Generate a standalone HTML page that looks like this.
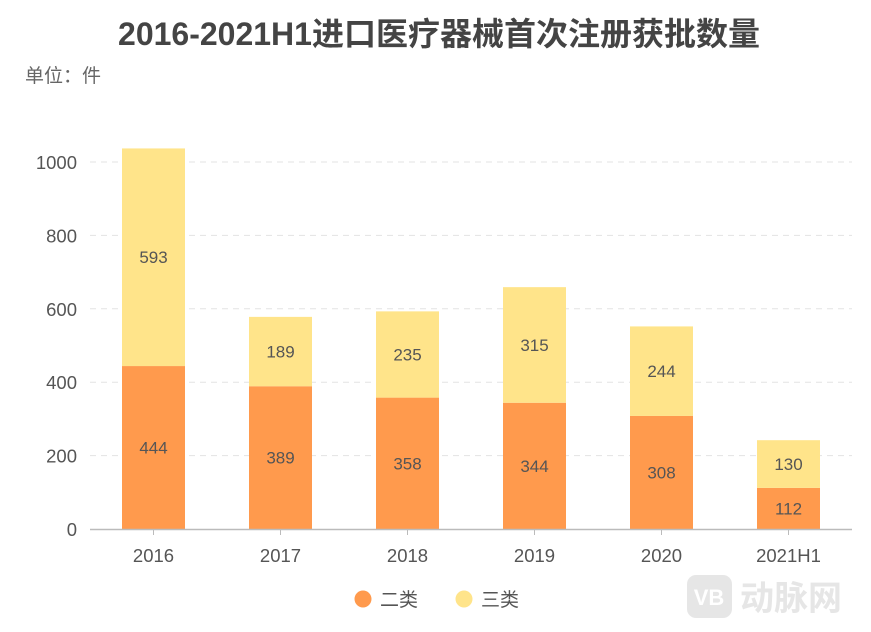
<!DOCTYPE html>
<html><head><meta charset="utf-8">
<style>
html,body{margin:0;padding:0;background:#fff;}
body{width:871px;height:627px;overflow:hidden;font-family:"Liberation Sans","Noto Sans CJK SC",sans-serif;}
</style></head>
<body>
<svg id="chart" width="871" height="627" font-family="'Liberation Sans','Noto Sans CJK SC',sans-serif">
  <text x="439" y="45" text-anchor="middle" font-size="32" font-weight="bold" fill="#444">2016-2021H1进口医疗器械首次注册获批数量</text>
  <text x="25" y="82" font-size="19" fill="#666">单位：件</text>
  <g id="grid"></g>
  <g id="bars"></g>
  <g id="axes"></g>
  <g>
    <circle cx="363" cy="599" r="8.5" fill="#FF9A4D"/>
    <text x="380" y="606" font-size="19" fill="#555">二类</text>
    <circle cx="464" cy="599" r="8.5" fill="#FFE48A"/>
    <text x="481" y="606" font-size="19" fill="#555">三类</text>
  </g>
  <g opacity="0.9">
    <rect x="687" y="575" width="45" height="43" rx="9" fill="#e4e4e4"/>
    <text x="709" y="605" text-anchor="middle" font-size="22" font-weight="bold" fill="#fff">VB</text>
    <text x="740" y="610" font-size="34" fill="#e4e4e4" font-weight="bold">动脉网</text>
  </g>
</svg>
<script>
const categories = ["2016","2017","2018","2019","2020","2021H1"];
const class2 = [444,389,358,344,308,112];
const class3 = [593,189,235,315,244,130];
const yTicks = [0,200,400,600,800,1000];

const NS="http://www.w3.org/2000/svg";
const x0=90,x1=852,y0=529,yMax=1000,yPxMax=162;
const band=(x1-x0)/categories.length;
const bw=63;
function yScale(v){return y0-(v/yMax)*(y0-yPxMax);}
function xCenter(i){return x0+band*(i+0.5);}
function mk(tag,attrs,parent){const e=document.createElementNS(NS,tag);for(const k in attrs)e.setAttribute(k,attrs[k]);parent.appendChild(e);return e;}

const grid=document.getElementById('grid'),bars=document.getElementById('bars'),axes=document.getElementById('axes');
yTicks.forEach(t=>{
  const y=yScale(t);
  if(t>0){const l=mk('line',{x1:x0,x2:x1,y1:y,y2:y,stroke:'#e3e3e3','stroke-dasharray':'6,5'},grid);
    
    }
  const tx=mk('text',{x:77,y:y+7,'text-anchor':'end','font-size':18.5,fill:'#555'},axes);
  tx.textContent=t;
  
  
});
const ax=mk('line',{x1:x0,x2:x1,y1:y0+0.5,y2:y0+0.5,stroke:'#bbb','stroke-width':1.5},axes);


categories.forEach((c,i)=>{
  const cx=xCenter(i);
  const tk=mk('line',{x1:cx,x2:cx,y1:y0,y2:y0+6,stroke:'#bbb'},axes);
  
  
  const lb=mk('text',{x:cx,y:562,'text-anchor':'middle','font-size':18.5,fill:'#555'},axes);
  lb.textContent=c;
  
  
  const yA=yScale(class2[i]),yB=yScale(class2[i]+class3[i]);
  const r1=mk('rect',{x:cx-bw/2,y:yA,width:bw,height:y0-yA,fill:'#FF9A4D'},bars);
  
  
  const r2=mk('rect',{x:cx-bw/2,y:yB,width:bw,height:yA-yB,fill:'#FFE48A'},bars);
  
  
  const t1=mk('text',{x:cx,y:(yA+y0)/2+6,'text-anchor':'middle','font-size':17,fill:'#555'},bars);
  t1.textContent=class2[i];
  
  
  const t2=mk('text',{x:cx,y:(yA+yB)/2+6,'text-anchor':'middle','font-size':17,fill:'#555'},bars);
  t2.textContent=class3[i];
  
  
});
</script>
</body></html>
